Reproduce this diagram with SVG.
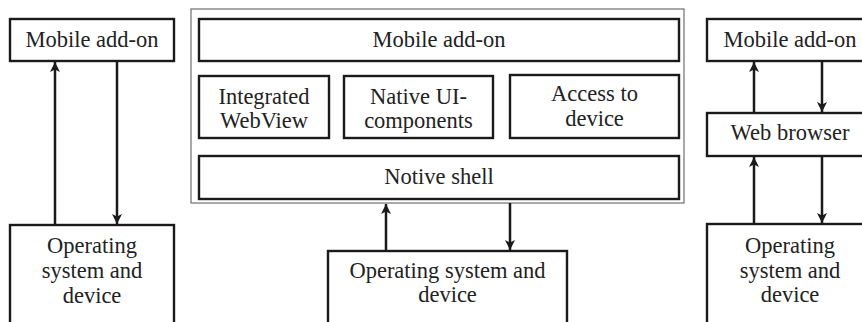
<svg xmlns="http://www.w3.org/2000/svg" width="862" height="322" viewBox="0 0 862 322">
  <style>
    .box { fill: #ffffff; stroke: #1a1a1a; stroke-width: 2.4; }
    .frame { fill: none; stroke: #6e6e6e; stroke-width: 1.2; }
    .lbl { font-family: "Liberation Serif", "Times New Roman", serif; font-size: 22.5px; fill: #222222; text-anchor: middle; }
    .conn { stroke: #1a1a1a; stroke-width: 2.5; fill: none; marker-end: url(#head); }
  </style>
  <defs>
    <marker id="head" viewBox="0 0 10 10" refX="10" refY="5" markerWidth="4" markerHeight="4" orient="auto" markerUnits="strokeWidth">
      <path d="M0,0 L10,5 L0,10 L2.5,5 Z" fill="#1a1a1a"/>
    </marker>
  </defs>

  <rect width="862" height="322" fill="#ffffff"/>

  <!-- Left column: add-on talks to the OS directly -->
  <g id="left-addon">
    <rect class="box" x="10" y="19" width="164" height="42"/>
    <text class="lbl" x="92" y="47">Mobile add-on</text>
  </g>
  <g id="left-os">
    <rect class="box" x="10" y="225" width="164" height="120"/>
    <text class="lbl" x="92" y="253">Operating</text>
    <text class="lbl" x="92" y="278">system and</text>
    <text class="lbl" x="92" y="303">device</text>
  </g>

  <!-- Middle column: hybrid app inside a native shell -->
  <g id="mid-frame">
    <rect class="frame" x="191" y="9" width="493" height="194"/>
  </g>
  <g id="mid-addon">
    <rect class="box" x="199" y="19" width="480" height="42"/>
    <text class="lbl" x="439" y="47">Mobile add-on</text>
  </g>
  <g id="mid-webview">
    <rect class="box" x="199" y="76" width="130" height="62"/>
    <text class="lbl" x="264" y="104">Integrated</text>
    <text class="lbl" x="264" y="128">WebView</text>
  </g>
  <g id="mid-native-ui">
    <rect class="box" x="344" y="76" width="149" height="62"/>
    <text class="lbl" x="418.5" y="104">Native UI-</text>
    <text class="lbl" x="418.5" y="128">components</text>
  </g>
  <g id="mid-access">
    <rect class="box" x="510" y="75" width="169" height="63"/>
    <text class="lbl" x="594.5" y="101">Access to</text>
    <text class="lbl" x="594.5" y="126">device</text>
  </g>
  <g id="mid-shell">
    <rect class="box" x="199" y="156" width="480" height="43"/>
    <text class="lbl" x="439" y="184">Notive shell</text>
  </g>
  <g id="mid-os">
    <rect class="box" x="328" y="251" width="239" height="100"/>
    <text class="lbl" x="447.5" y="278">Operating system and</text>
    <text class="lbl" x="447.5" y="302">device</text>
  </g>

  <!-- Right column: web app running in the browser -->
  <g id="right-addon">
    <rect class="box" x="707" y="19" width="170" height="42"/>
    <text class="lbl" x="790" y="47">Mobile add-on</text>
  </g>
  <g id="right-browser">
    <rect class="box" x="707" y="113" width="170" height="43"/>
    <text class="lbl" x="790" y="140">Web browser</text>
  </g>
  <g id="right-os">
    <rect class="box" x="707" y="224" width="170" height="120"/>
    <text class="lbl" x="790" y="253">Operating</text>
    <text class="lbl" x="790" y="278">system and</text>
    <text class="lbl" x="790" y="302">device</text>
  </g>

  <g id="connectors">
    <line class="conn" x1="55" y1="225" x2="55" y2="62"/>
    <line class="conn" x1="117" y1="61" x2="117" y2="224"/>
    <line class="conn" x1="386" y1="251" x2="386" y2="204"/>
    <line class="conn" x1="510" y1="203" x2="510" y2="250"/>
    <line class="conn" x1="754" y1="113" x2="754" y2="62"/>
    <line class="conn" x1="822" y1="61" x2="822" y2="112"/>
    <line class="conn" x1="754" y1="224" x2="754" y2="157"/>
    <line class="conn" x1="822" y1="156" x2="822" y2="223"/>
  </g>
</svg>
